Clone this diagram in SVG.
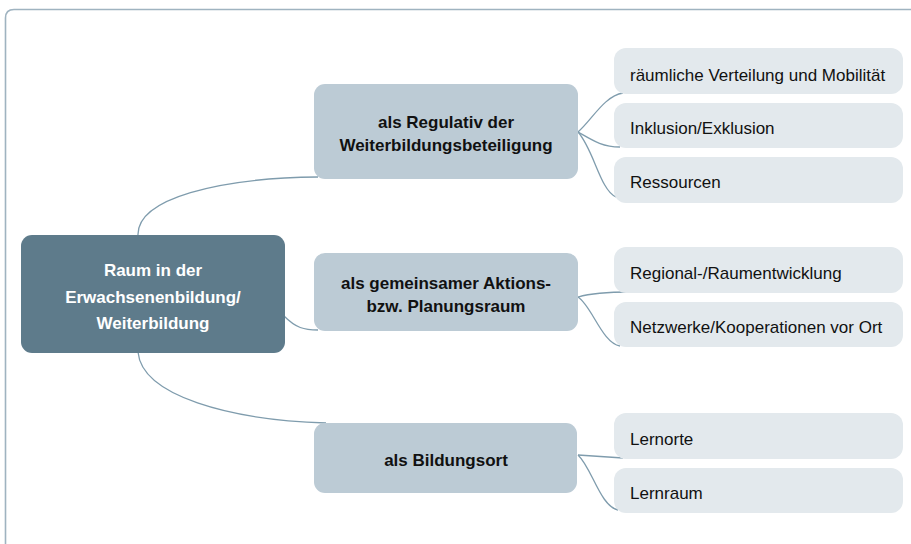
<svg xmlns="http://www.w3.org/2000/svg" width="911" height="544" viewBox="0 0 911 544">
<style>
text{font-family:"Liberation Sans",Arial,sans-serif;font-size:17px}
.root rect{fill:#5e7b8b}
.root text{fill:#ffffff;font-weight:bold;text-anchor:middle}
.mid rect{fill:#bccbd5}
.mid text{fill:#111111;font-weight:bold;text-anchor:middle}
.leaf rect{fill:#e3e9ed}
.leaf text{fill:#111111}
#connectors path{fill:none;stroke:#7f9cad;stroke-width:1.3}
.frame{fill:none;stroke:#9fb3c0;stroke-width:1.6}
</style>
<rect width="911" height="544" fill="#ffffff"/>
<path class="frame" d="M5.5,544 V18 Q5.5,9.5 14,9.5 H911"/>
<g id="connectors">
<path d="M138,236 C136,198 220,178 318,177"/>
<path d="M284,316 C296,328 304,330 318,330"/>
<path d="M138,352 C142,396 230,420 326,423"/>
<path d="M578,132 C592,120 604,96 623,93"/>
<path d="M578,132 C592,140 602,147 620,147"/>
<path d="M578,132 C594,150 600,190 616,197"/>
<path d="M578,297 C592,293 608,292 630,292"/>
<path d="M578,297 C592,306 602,343 620,346"/>
<path d="M578,455 C592,456 606,457 623,458"/>
<path d="M578,455 C592,468 600,506 618,510"/>
</g>
<g id="root" class="root">
<rect x="21" y="235" width="264" height="118" rx="11"/>
<text x="153" y="276">Raum in der</text>
<text x="153" y="303">Erwachsenenbildung/</text>
<text x="153" y="329">Weiterbildung</text>
</g>
<g id="n-regulativ" class="mid">
<rect x="314" y="84" width="264" height="95" rx="11"/>
<text x="446" y="128">als Regulativ der</text>
<text x="446" y="151">Weiterbildungsbeteiligung</text>
</g>
<g id="n-aktionsraum" class="mid">
<rect x="314" y="253" width="264" height="78" rx="11"/>
<text x="446" y="289">als gemeinsamer Aktions-</text>
<text x="446" y="312">bzw. Planungsraum</text>
</g>
<g id="n-bildungsort" class="mid">
<rect x="314" y="423" width="263" height="70" rx="11"/>
<text x="446" y="466">als Bildungsort</text>
</g>
<g id="l-verteilung" class="leaf">
<rect x="614" y="48" width="289" height="46" rx="12"/>
<text x="630" y="81">räumliche Verteilung und Mobilität</text>
</g>
<g id="l-inklusion" class="leaf">
<rect x="614" y="103" width="289" height="45" rx="12"/>
<text x="630" y="134">Inklusion/Exklusion</text>
</g>
<g id="l-ressourcen" class="leaf">
<rect x="614" y="157" width="289" height="46" rx="12"/>
<text x="630" y="188">Ressourcen</text>
</g>
<g id="l-regional" class="leaf">
<rect x="614" y="247" width="289" height="46" rx="12"/>
<text x="630" y="279">Regional-/Raumentwicklung</text>
</g>
<g id="l-netzwerke" class="leaf">
<rect x="614" y="302" width="289" height="45" rx="12"/>
<text x="630" y="333">Netzwerke/Kooperationen vor Ort</text>
</g>
<g id="l-lernorte" class="leaf">
<rect x="614" y="413" width="289" height="46" rx="12"/>
<text x="630" y="445">Lernorte</text>
</g>
<g id="l-lernraum" class="leaf">
<rect x="614" y="468" width="289" height="45" rx="12"/>
<text x="630" y="499">Lernraum</text>
</g>
</svg>
